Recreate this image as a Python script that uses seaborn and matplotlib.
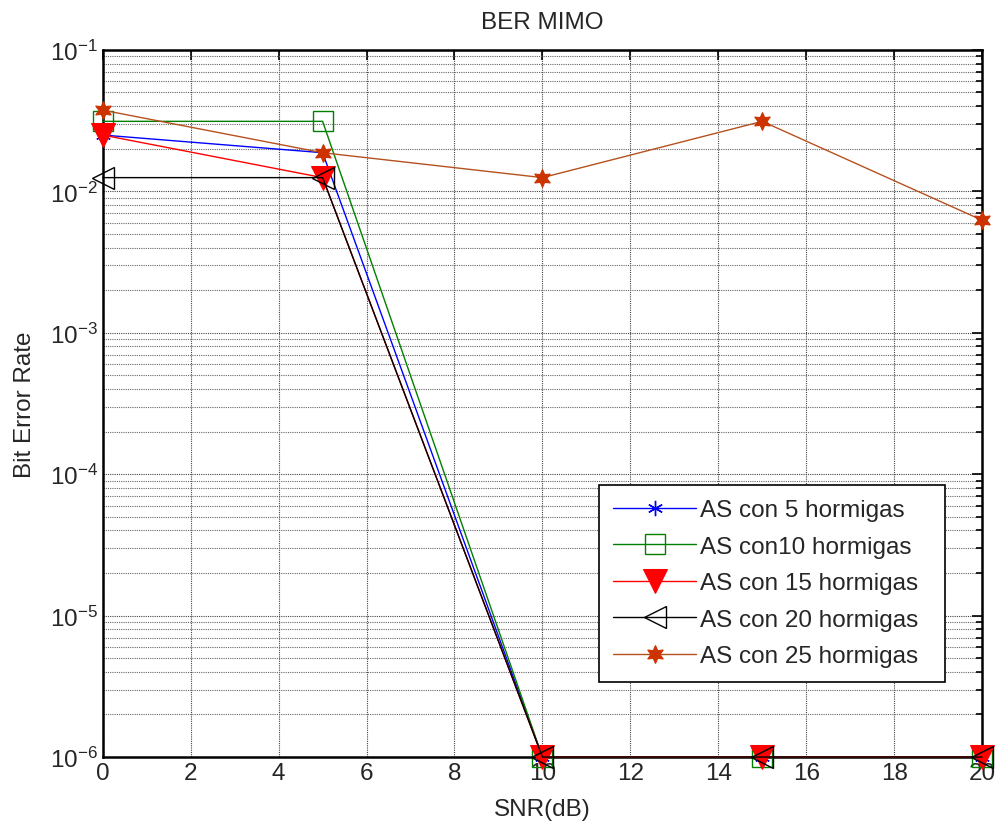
import matplotlib
matplotlib.use("Agg")
import matplotlib.pyplot as plt
import numpy as np
import pandas as pd
import seaborn as sns
from matplotlib.ticker import LogLocator, MultipleLocator

snr_db = [0, 5, 10, 15, 20]
ber_5 = [0.025, 0.01875, 1e-6, 1e-6, 1e-6]
ber_10 = [0.03125, 0.03125, 1e-6, 1e-6, 1e-6]
ber_15 = [0.025, 0.0125, 1e-6, 1e-6, 1e-6]
ber_20 = [0.0125, 0.0125, 1e-6, 1e-6, 1e-6]
ber_25 = [0.0375, 0.01875, 0.0125, 0.03125, 0.00625]
labels = ["AS con 5 hormigas", "AS con10 hormigas", "AS con 15 hormigas",
          "AS con 20 hormigas", "AS con 25 hormigas"]

sns.set_style("white")
plt.rcParams["font.family"] = ["Liberation Sans", "DejaVu Sans"]
plt.rcParams["mathtext.fontset"] = "custom"
plt.rcParams["mathtext.rm"] = "Liberation Sans"
plt.rcParams["mathtext.it"] = "Liberation Sans"

FS = 17.5

styles = [
    dict(color="#0000FF", marker=(6, 2, 0), markersize=11, markerfacecolor="none",
         markeredgecolor="#0000FF", markeredgewidth=1.0),
    dict(color="#008000", marker="s", markersize=15, markerfacecolor="none",
         markeredgecolor="#008000", markeredgewidth=1.0),
    dict(color="#FF0000", marker="v", markersize=17, markerfacecolor="#FF0000",
         markeredgecolor="#FF0000"),
    dict(color="#000000", marker="<", markersize=16, markerfacecolor="none",
         markeredgecolor="#000000", markeredgewidth=1.0),
    dict(color="#B5511E", marker=(6, 1, 0), markersize=13, markerfacecolor="#CC3300",
         markeredgecolor="#CC3300"),
]
series = [ber_5, ber_10, ber_15, ber_20, ber_25]

fig = plt.figure(figsize=(9.98, 8.29), dpi=100)
ax = fig.add_axes([0.103, 0.0856, 0.881, 0.853])

for vals, lab, st in zip(series, labels, styles):
    df = pd.DataFrame({"snr": snr_db, "ber": vals})
    sns.lineplot(data=df, x="snr", y="ber", ax=ax, label=lab, linewidth=1.0,
                 clip_on=False, zorder=3, **st)

ax.set_yscale("log")
ax.set_xlim(0, 20)
ax.set_ylim(1e-6, 1e-1)
ax.xaxis.set_major_locator(MultipleLocator(2))
ax.yaxis.set_major_locator(LogLocator(base=10, numticks=10))
ax.yaxis.set_minor_locator(LogLocator(base=10, subs=np.arange(2, 10), numticks=20))

ax.grid(True, which="major", color="#444444", linestyle=(0, (1, 1)), linewidth=0.8)
ax.grid(True, which="minor", axis="y", color="#666666", linestyle=(0, (1, 1)), linewidth=0.8)
ax.set_axisbelow(True)

ax.tick_params(which="both", direction="in", top=True, right=True, labelsize=FS,
               color="black", width=1.2)
ax.tick_params(which="major", length=7)
ax.tick_params(which="minor", length=4)
for sp in ax.spines.values():
    sp.set_color("black")
    sp.set_linewidth(1.8)

ax.set_title("BER MIMO", fontsize=FS, pad=16)
ax.set_xlabel("SNR(dB)", fontsize=FS, labelpad=10)
ax.set_ylabel("Bit Error Rate", fontsize=FS, labelpad=10)

leg = ax.legend(loc="lower left", bbox_to_anchor=(0.564, 0.106, 0.394, 0.274),
                mode="expand", fontsize=FS, fancybox=False, framealpha=1,
                edgecolor="black", handlelength=3.4, borderpad=0.6,
                labelspacing=0.6, handletextpad=0.15, borderaxespad=0)
leg.get_frame().set_linewidth(1.2)

fig.savefig("out.png", dpi=100)
